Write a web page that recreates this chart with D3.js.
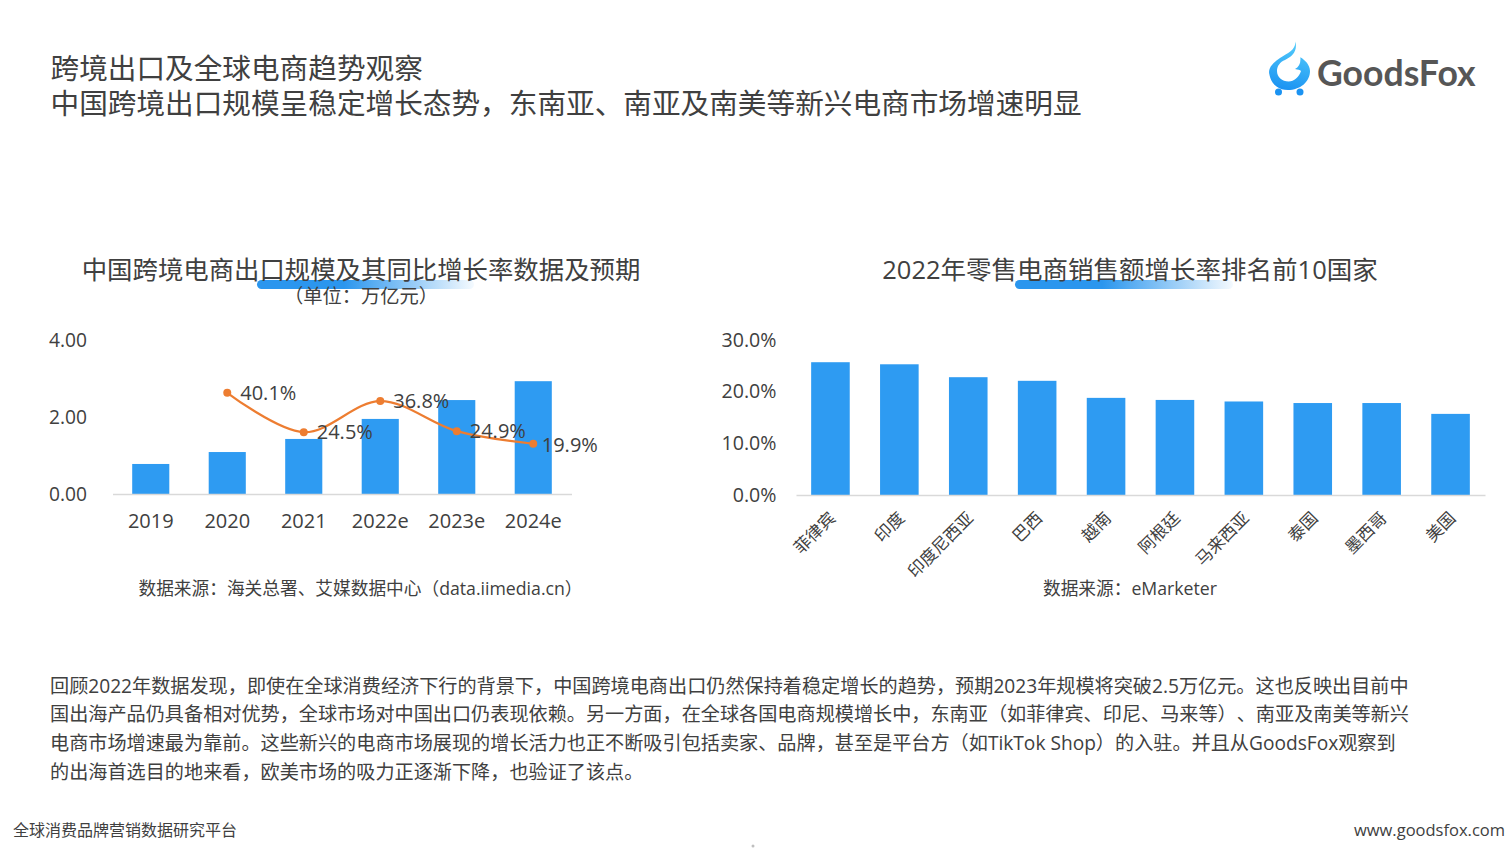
<!DOCTYPE html>
<html>
<head>
<meta charset="utf-8">
<script src="https://cdn.jsdelivr.net/npm/d3@7"></script>
<style>
  html, body { margin: 0; padding: 0; background: #fff; overflow: hidden; }
  text { font-family: "Open Sans", "Noto Sans CJK SC", sans-serif; fill: #404040; text-spacing-trim: space-all; }
</style>
</head>
<body>
<svg id="page" width="1511" height="851"></svg>
<script>
const years = ['2019', '2020', '2021', '2022e', '2023e', '2024e'];
const exportScale = [0.78, 1.09, 1.43, 1.95, 2.44, 2.93];
const growthYears = ['2020', '2021', '2022e', '2023e', '2024e'];
const growthRates = [40.1, 24.5, 36.8, 24.9, 19.9];
const leftTicks = [0, 2, 4];

const countries = ['菲律宾', '印度', '印度尼西亚', '巴西', '越南', '阿根廷', '马来西亚', '泰国', '墨西哥', '美国'];
const countryGrowth = [25.7, 25.3, 22.8, 22.1, 18.8, 18.4, 18.1, 17.8, 17.8, 15.7];
const rightTicks = [0, 10, 20, 30];

const pageTitle = ['跨境出口及全球电商趋势观察', '中国跨境出口规模呈稳定增长态势，东南亚、南亚及南美等新兴电商市场增速明显'];
const bodyLines = [
  '回顾2022年数据发现，即使在全球消费经济下行的背景下，中国跨境电商出口仍然保持着稳定增长的趋势，预期2023年规模将突破2.5万亿元。这也反映出目前中',
  '国出海产品仍具备相对优势，全球市场对中国出口仍表现依赖。另一方面，在全球各国电商规模增长中，东南亚（如菲律宾、印尼、马来等）、南亚及南美等新兴',
  '电商市场增速最为靠前。这些新兴的电商市场展现的增长活力也正不断吸引包括卖家、品牌，甚至是平台方（如TikTok Shop）的入驻。并且从GoodsFox观察到',
  '的出海首选目的地来看，欧美市场的吸力正逐渐下降，也验证了该点。'
];

const BLUE = '#2e9bf2';
const ORANGE = '#ed7d31';
const svg = d3.select('#page');

const defs = svg.append('defs');
const barGrad = defs.append('linearGradient').attr('id', 'underline');
barGrad.append('stop').attr('offset', '0%').attr('stop-color', '#2b96ee');
barGrad.append('stop').attr('offset', '40%').attr('stop-color', '#2b96ee');
barGrad.append('stop').attr('offset', '100%').attr('stop-color', '#2b96ee').attr('stop-opacity', 0.05);
const flameGrad = defs.append('linearGradient').attr('id', 'flame')
  .attr('x1', 0.6).attr('y1', 0).attr('x2', 0.4).attr('y2', 1);
flameGrad.append('stop').attr('offset', '0%').attr('stop-color', '#55cdfb');
flameGrad.append('stop').attr('offset', '100%').attr('stop-color', '#1b93f2');

function label(x, y, str, size, anchor) {
  return svg.append('text')
    .attr('x', x).attr('y', y)
    .attr('font-size', size)
    .attr('text-anchor', anchor || 'start')
    .text(str);
}

// page header
pageTitle.forEach((t, i) => label(50.5, 79 + i * 35, t, 28.65));

// logo
const logo = svg.append('g').attr('transform', 'translate(1268,41)');
logo.append('path')
  .attr('fill', 'url(#flame)')
  .attr('d', 'M27.3 0.3 C28 9 20 12 12 17 C4 22 0 28 1.3 33 C3 43 10 49 20 49 C32 49 42 41 42 30 C42 24 37 19 32.3 16.3 C33 22 31 26 27 28 C30 28.5 32 29 33 30 C31 36 26 40.5 20.7 40.5 C14 40.5 9 36 9 30 C9 25 12 21 17 19 C24 16 30 10 27.3 0.3 Z');
logo.append('circle').attr('cx', 10.5).attr('cy', 51).attr('r', 3.5).attr('fill', '#1b93f2');
logo.append('circle').attr('cx', 32).attr('cy', 51).attr('r', 3.5).attr('fill', '#1b93f2');
label(1317, 86, 'GoodsFox', 35.6).attr('font-weight', 700).style('fill', '#565656').style('font-family', 'Lato');

// chart headings with the underline swoosh
svg.append('rect').attr('x', 257).attr('y', 280).attr('width', 217).attr('height', 9).attr('rx', 4.5).attr('fill', 'url(#underline)');
svg.append('rect').attr('x', 1015).attr('y', 280).attr('width', 218).attr('height', 9).attr('rx', 4.5).attr('fill', 'url(#underline)');
label(361, 279, '中国跨境电商出口规模及其同比增长率数据及预期', 25.4, 'middle');
label(361, 303, '（单位：万亿元）', 19.3, 'middle');
label(1130, 279, '2022年零售电商销售额增长率排名前10国家', 25.5, 'middle');

// left chart
const xLeft = d3.scaleBand().domain(years).range([112.5, 571.5]).paddingInner(0.515).paddingOuter(0.2575);
const yLeft = d3.scaleLinear().domain([0, 4]).range([494, 340]);
const yRate = d3.scaleLinear().domain([0, 61]).range([494, 340]);
const leftCenter = d => xLeft(d) + xLeft.bandwidth() / 2;

svg.append('g').selectAll('rect').data(years).join('rect')
  .attr('x', d => xLeft(d))
  .attr('width', xLeft.bandwidth())
  .attr('y', (d, i) => yLeft(exportScale[i]))
  .attr('height', (d, i) => yLeft(0) - yLeft(exportScale[i]))
  .attr('fill', BLUE);

const axisLeftG = svg.append('g').attr('transform', 'translate(90,0)')
  .call(d3.axisLeft(yLeft).tickValues(leftTicks).tickFormat(d3.format('.2f')).tickSize(0));
axisLeftG.select('.domain').remove();
axisLeftG.selectAll('text').attr('font-size', 19.2).attr('font-family', null);

const axisBottomL = svg.append('g').attr('transform', 'translate(0,494)')
  .call(d3.axisBottom(xLeft).tickSize(0).tickPadding(20));
axisBottomL.select('.domain').attr('stroke', '#d9d9d9').attr('stroke-width', 1.5);
axisBottomL.selectAll('text').attr('font-size', 20).attr('font-family', null);

const rateLine = d3.line()
  .x((d, i) => leftCenter(growthYears[i]))
  .y(d => yRate(d))
  .curve(d3.curveCatmullRom.alpha(0.5));
svg.append('path').datum(growthRates)
  .attr('d', rateLine)
  .attr('fill', 'none')
  .attr('stroke', ORANGE)
  .attr('stroke-width', 2.2);
svg.append('g').selectAll('circle').data(growthRates).join('circle')
  .attr('cx', (d, i) => leftCenter(growthYears[i]))
  .attr('cy', d => yRate(d))
  .attr('r', 4)
  .attr('fill', ORANGE);
svg.append('g').selectAll('text').data(growthRates).join('text')
  .attr('x', (d, i) => leftCenter(growthYears[i]) + (i === growthRates.length - 1 ? 8.5 : 13))
  .attr('y', (d, i) => yRate(d) + (i === growthRates.length - 1 ? 8 : 7))
  .attr('font-size', 20)
  .text(d => d3.format('.1f')(d) + '%');

label(356, 595, '数据来源：海关总署、艾媒数据中心（data.iimedia.cn）', 17.7, 'middle').attr('x', 360.5);

// right chart
const xRight = d3.scaleBand().domain(countries).range([796, 1485]).paddingInner(0.44).paddingOuter(0.22);
const yRight = d3.scaleLinear().domain([0, 30]).range([495, 340]);

svg.append('g').selectAll('rect').data(countries).join('rect')
  .attr('x', d => xRight(d))
  .attr('width', xRight.bandwidth())
  .attr('y', (d, i) => yRight(countryGrowth[i]))
  .attr('height', (d, i) => yRight(0) - yRight(countryGrowth[i]))
  .attr('fill', BLUE);

const axisRightG = svg.append('g').attr('transform', 'translate(776.5,0)')
  .call(d3.axisLeft(yRight).tickValues(rightTicks).tickFormat(d => d3.format('.1f')(d) + '%').tickSize(0).tickPadding(0));
axisRightG.select('.domain').remove();
axisRightG.selectAll('text').attr('font-size', 19.6).attr('font-family', null);

const axisBottomR = svg.append('g').attr('transform', 'translate(0,495)')
  .call(d3.axisBottom(xRight).tickSize(0));
axisBottomR.select('.domain').attr('stroke', '#d9d9d9').attr('stroke-width', 1.5);
axisBottomR.selectAll('text')
  .attr('font-size', 16.8)
  .attr('font-family', null)
  .attr('text-anchor', 'end')
  .attr('transform', 'translate(2,20) rotate(-45)')
  .attr('x', 0).attr('y', 0).attr('dy', '0.35em');

label(1130, 595, '数据来源：eMarketer', 17.7, 'middle');

// commentary and footer
bodyLines.forEach((t, i) => label(50, 692.5 + i * 28.7, t, 19.15));
label(13, 836, '全球消费品牌营销数据研究平台', 16);
label(1505, 836, 'www.goodsfox.com', 16.5, 'end');
svg.append('circle').attr('cx', 753).attr('cy', 846).attr('r', 1.5).attr('fill', '#bfbfbf');
</script>
</body>
</html>
